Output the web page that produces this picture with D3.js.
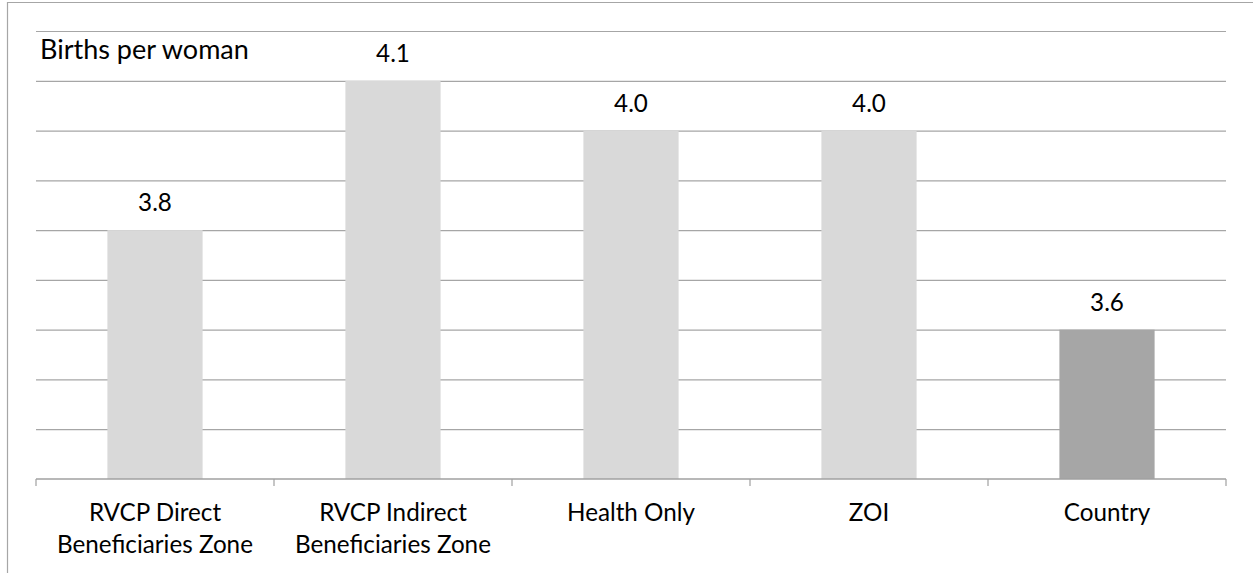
<!DOCTYPE html>
<html>
<head>
<meta charset="utf-8">
<script src="https://cdn.jsdelivr.net/npm/d3@7"></script>
<style>
  html, body { margin: 0; padding: 0; background: #fff; }
  svg { display: block; }
</style>
</head>
<body>
<svg id="chart" width="1253" height="573"></svg>
<script>
// ---- data ----
const categories = ["RVCP Direct\nBeneficiaries Zone", "RVCP Indirect\nBeneficiaries Zone", "Health Only", "ZOI", "Country"];
const values = [3.8, 4.1, 4.0, 4.0, 3.6];
const highlighted = ["Country"];
const yDomain = [3.3, 4.2];
const yTickStep = 0.1;
const yTitle = "Births per woman";

// ---- layout ----
const W = 1253, H = 573;
const plot = { left: 36, right: 1226, top: 31, bottom: 479 };
const fontFamily = "Lato, 'Open Sans', sans-serif";

const svg = d3.select("#chart");

// fit font sizes so that text widths mimic the reference (Calibri-like metrics)
function fitSize(str, targetW) {
  const probe = svg.append("text").attr("font-family", fontFamily).attr("font-size", 100).text(str);
  const w = probe.node().getComputedTextLength();
  probe.remove();
  return Math.min(30, Math.max(18, 100 * targetW / w));
}
const fontSize = fitSize("Beneficiaries Zone", 196);
const titleSize = fitSize(yTitle, 209);

// outer border
svg.append("path")
  .attr("d", `M7.5,${H} L7.5,2.5 L${W},2.5`)
  .attr("fill", "none").attr("stroke", "#a6a6a6").attr("stroke-width", 1.2);

const x = d3.scaleBand()
  .domain(categories)
  .range([plot.left, plot.right])
  .paddingInner(0.6)
  .paddingOuter(0.3);

const y = d3.scaleLinear().domain(yDomain).range([plot.bottom, plot.top]);

const tickVals = d3.range(0, Math.round((yDomain[1] - yDomain[0]) / yTickStep) + 1)
  .map(i => +(yDomain[0] + i * yTickStep).toFixed(2));

// gridlines
const grid = svg.append("g")
  .attr("transform", `translate(${plot.left},0)`)
  .call(d3.axisLeft(y).tickValues(tickVals.slice(1)).tickSize(-(plot.right - plot.left)).tickFormat(""));
grid.select(".domain").remove();
grid.selectAll(".tick line").attr("stroke", "#a6a6a6").attr("stroke-width", 1.2);

// bars
svg.append("g").selectAll("rect")
  .data(values)
  .join("rect")
  .attr("x", (d, i) => x(categories[i]))
  .attr("width", x.bandwidth())
  .attr("y", d => y(d))
  .attr("height", d => y(yDomain[0]) - y(d))
  .attr("fill", (d, i) => highlighted.includes(categories[i]) ? "#a6a6a6" : "#d9d9d9");

// x axis: baseline + ticks at band boundaries
const xAxisG = svg.append("g").attr("transform", `translate(0,${plot.bottom})`);
xAxisG.append("line")
  .attr("x1", plot.left).attr("x2", plot.right)
  .attr("stroke", "#a0a0a0").attr("stroke-width", 1.5);
const boundaries = categories.map(c => x(c) - x.step() * x.paddingInner() / 2)
  .concat([x(categories[categories.length - 1]) + x.bandwidth() + x.step() * x.paddingInner() / 2]);
xAxisG.selectAll("line.tk")
  .data(boundaries)
  .join("line")
  .attr("class", "tk")
  .attr("x1", d => d).attr("x2", d => d)
  .attr("y1", 0).attr("y2", 7)
  .attr("stroke", "#a0a0a0").attr("stroke-width", 1.2);

// category labels
const lab = svg.append("g").attr("font-family", fontFamily).attr("font-size", fontSize).attr("fill", "#000");
categories.forEach((c, i) => {
  const lines = c.split("\n");
  const t = lab.append("text")
    .attr("text-anchor", "middle")
    .attr("x", x(c) + x.bandwidth() / 2)
    .attr("y", 521);
  lines.forEach((ln, j) => {
    t.append("tspan").attr("x", x(c) + x.bandwidth() / 2).attr("y", 521 + j * 32).text(ln);
  });
});

// value labels
svg.append("g").selectAll("text")
  .data(values)
  .join("text")
  .attr("font-family", fontFamily).attr("font-size", fontSize)
  .attr("text-anchor", "middle")
  .attr("x", (d, i) => x(categories[i]) + x.bandwidth() / 2)
  .attr("y", d => y(d) - 19)
  .text(d => d3.format(".1f")(d));

// axis title
svg.append("text")
  .attr("font-family", fontFamily).attr("font-size", titleSize)
  .attr("x", 40).attr("y", 59)
  .text(yTitle);
</script>
</body>
</html>
